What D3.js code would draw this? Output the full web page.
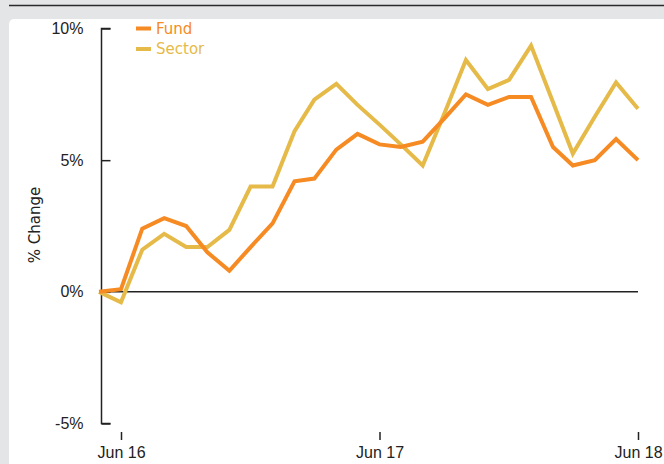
<!DOCTYPE html>
<html>
<head>
<meta charset="utf-8">
<script src="https://cdn.jsdelivr.net/npm/d3@7"></script>
<style>
  body { margin: 0; background: #e4e5e7; }
  svg { display: block; font-family: "DejaVu Sans", sans-serif; }
</style>
</head>
<body>
<div id="chart"></div>
<script>
// Data: monthly % change, May 2016 .. Jun 2018
const months = ["2016-05","2016-06","2016-07","2016-08","2016-09","2016-10","2016-11","2016-12",
  "2017-01","2017-02","2017-03","2017-04","2017-05","2017-06","2017-07","2017-08","2017-09",
  "2017-10","2017-11","2017-12","2018-01","2018-02","2018-03","2018-04","2018-05","2018-06"];
const fund = [0, 0.1, 2.4, 2.8, 2.5, 1.5, 0.8, 1.7, 2.6, 4.2, 4.3, 5.4, 6.0, 5.6, 5.5, 5.7,
  6.6, 7.5, 7.1, 7.4, 7.4, 5.5, 4.8, 5.0, 5.8, 5.0];
const sector = [0, -0.4, 1.6, 2.2, 1.7, 1.7, 2.35, 4.0, 4.0, 6.1, 7.3, 7.9, 7.1, 6.35, 5.6, 4.8,
  6.8, 8.8, 7.7, 8.05, 9.35, 7.2, 5.25, 6.65, 7.95, 6.95];
const yTicks = [-5, 0, 5, 10];
const xTickDates = ["2016-06", "2017-06", "2018-06"];

const series = [
  { name: "Fund", values: fund, color: "#f68a23" },
  { name: "Sector", values: sector, color: "#e6ba48" }
];

const W = 664, H = 464;
const parse = d3.timeParse("%Y-%m");
const dates = months.map(parse);

const svg = d3.select("#chart").append("svg")
  .attr("width", W).attr("height", H);

// background + top rule + white panel
svg.append("rect").attr("width", W).attr("height", H).attr("fill", "#e4e5e7");
svg.append("line")
  .attr("x1", 9).attr("x2", W).attr("y1", 5.5).attr("y2", 5.5)
  .attr("stroke", "#2a2a2a").attr("stroke-width", 1.5);
svg.append("rect")
  .attr("x", 9).attr("y", 19).attr("width", W).attr("height", H)
  .attr("rx", 5).attr("fill", "#fff");

const x = d3.scaleTime()
  .domain([parse("2016-06"), parse("2018-06")])
  .range([121, 638]);

const y = d3.scaleLinear()
  .domain([-5, 10])
  .range([423.5, 28.5]);

// y axis: line with ticks pointing right
const yAxis = svg.append("g")
  .attr("transform", "translate(101.5,0)")
  .call(d3.axisRight(y).tickValues(yTicks).tickSize(9).tickFormat(d => d + "%"));
yAxis.select(".domain").attr("d", `M9,${y(10)}H0V${y(-5)}H9`).attr("stroke", "#222").attr("stroke-width", 1.5);
yAxis.selectAll(".tick line").attr("stroke", "#222").attr("stroke-width", 1.5);
yAxis.selectAll(".tick text")
  .attr("x", -18).attr("text-anchor", "end")
  .attr("font-size", 16).attr("fill", "#222");

// y label
svg.append("text")
  .attr("transform", "translate(40,225) rotate(-90)")
  .attr("text-anchor", "middle")
  .attr("font-size", 15).attr("fill", "#222")
  .text("% Change");

// x axis ticks (no domain line)
const xAxis = svg.append("g")
  .attr("transform", "translate(0,432)")
  .call(d3.axisBottom(x).tickValues(xTickDates.map(parse)).tickSize(8).tickPadding(7)
    .tickFormat(d3.timeFormat("%b %y")));
xAxis.select(".domain").remove();
xAxis.selectAll(".tick line").attr("stroke", "#222").attr("stroke-width", 1.5);
xAxis.selectAll(".tick text").attr("font-size", 16).attr("fill", "#222");

// zero line
svg.append("line")
  .attr("x1", x(dates[0])).attr("x2", x(dates[dates.length - 1]))
  .attr("y1", y(0)).attr("y2", y(0))
  .attr("stroke", "#222").attr("stroke-width", 1.5);

// lines
const line = d3.line()
  .x((d, i) => x(dates[i]))
  .y(d => y(d));

series.slice().reverse().forEach(s => {
  svg.append("path")
    .datum(s.values)
    .attr("d", line)
    .attr("fill", "none")
    .attr("stroke", s.color)
    .attr("stroke-width", 4)
    .attr("stroke-linejoin", "miter");
});

// legend
const legend = svg.append("g").attr("transform", "translate(136,28.5)");
series.forEach((s, i) => {
  legend.append("rect")
    .attr("x", 0).attr("y", i * 20.5 - 2)
    .attr("width", 15).attr("height", 4)
    .attr("fill", s.color);
  legend.append("text")
    .attr("x", 20).attr("y", i * 20.5 + 5)
    .attr("font-size", 15).attr("fill", s.color)
    .text(s.name);
});
</script>
</body>
</html>
